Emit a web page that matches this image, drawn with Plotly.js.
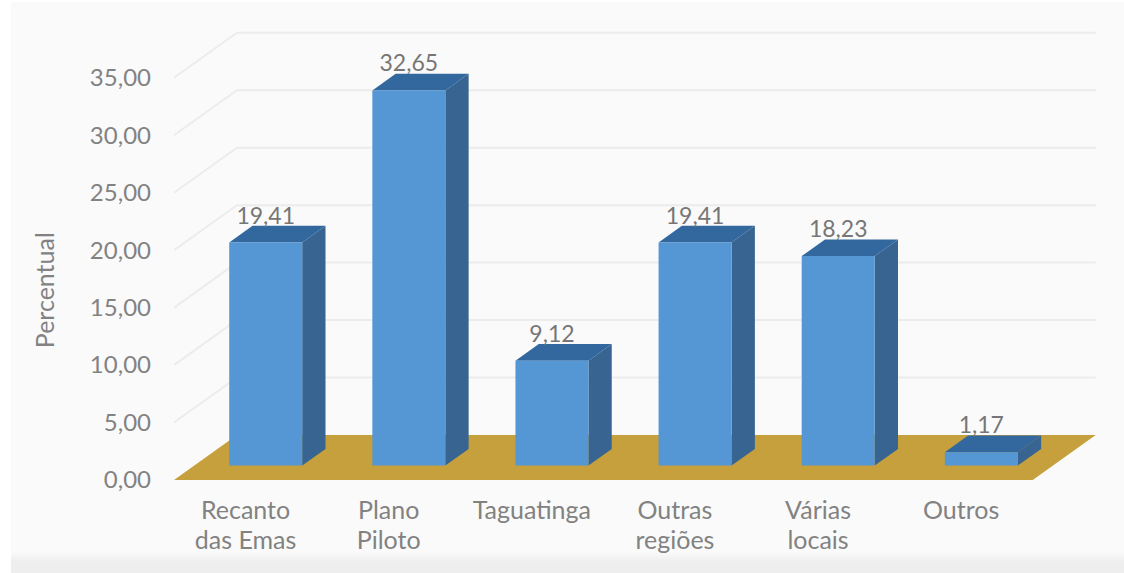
<!DOCTYPE html>
<html>
<head>
<meta charset="utf-8">
<script src="https://cdn.plot.ly/plotly-3.0.1.min.js"></script>
<style>
  html, body { margin: 0; padding: 0; background: #ffffff; overflow: hidden; }
  #panel { position: absolute; left: 11px; top: 2px; width: 1113px; height: 571px;
           background: linear-gradient(#fafafa 0, #fafafa 550px, #eeeeee 560px, #eeeeee 100%); }
  #chart { position: absolute; left: 0; top: 0; width: 1124px; height: 573px; }
</style>
</head>
<body>
<div id="panel"></div>
<div id="chart"></div>
<script>
// Survey share by region, drawn as an oblique 3-D column chart.
const categoriesLine1 = ['Recanto', 'Plano', 'Taguatinga', 'Outras', 'Várias', 'Outros'];
const categoriesLine2 = ['das Emas', 'Piloto', '', 'regiões', 'locais', ''];
const percentages = [19.41, 32.65, 9.12, 19.41, 18.23, 1.17];
const gridValues = [0, 5, 10, 15, 20, 25, 30, 35];

const textFont = 'Lato, "Open Sans", sans-serif';
const textGrey = '#828282';

// Oblique projection: one full unit of floor depth shifts a point by these data amounts.
const depthX = 0.44;
const depthY = 3.92;
const slotHalf = 0.5;
const barHalf = 0.255;
const barFront = 0.32;
const barBack = 0.69;
const xRange = [-0.5, 5.97];
const yRange = [0, 40.03];

const project = (x, depth, value) => [x + depth * depthX, value + depth * depthY];

function polygon(points, color) {
  const pts = points.map(p => project(p[0], p[1], p[2]));
  return {
    type: 'scatter', mode: 'lines', fill: 'toself', fillcolor: color,
    x: pts.map(p => p[0]).concat(pts[0][0]),
    y: pts.map(p => p[1]).concat(pts[0][1]),
    line: { color: color, width: 0 },
    hoverinfo: 'skip', showlegend: false
  };
}

function segment(points) {
  const pts = points.map(p => project(p[0], p[1], p[2]));
  return {
    type: 'scatter', mode: 'lines',
    x: pts.map(p => p[0]), y: pts.map(p => p[1]),
    line: { color: '#ececec', width: 2 },
    hoverinfo: 'skip', showlegend: false
  };
}

const last = percentages.length - 1;
const traces = [];

// Back wall and left wall grid lines
gridValues.filter(v => v > 0).forEach(v => {
  traces.push(segment([[xRange[0], 0, v], [xRange[0], 1, v], [last + slotHalf, 1, v]]));
});

// Floor
traces.push(polygon([
  [xRange[0], 0, 0], [last + slotHalf, 0, 0], [last + slotHalf, 1, 0], [xRange[0], 1, 0]
], '#c5a03c'));

// Column side and top faces
percentages.forEach((v, i) => {
  const l = i - barHalf, r = i + barHalf;
  traces.push(polygon([[r, barFront, 0], [r, barBack, 0], [r, barBack, v], [r, barFront, v]], '#376491'));
  traces.push(polygon([[l, barFront, v], [r, barFront, v], [r, barBack, v], [l, barBack, v]], '#33689f'));
});

// Column front faces sit on the overlay axes so they cover the projected faces behind them
traces.push({
  type: 'bar', xaxis: 'x2', yaxis: 'y2',
  x: percentages.map((v, i) => project(i, barFront, 0)[0]),
  y: percentages,
  base: percentages.map(() => project(0, barFront, 0)[1]),
  width: barHalf * 2,
  marker: { color: '#5596d5', line: { width: 0 } },
  hoverinfo: 'skip', showlegend: false
});

// Value labels centred over each front face, touching the back edge of the top face
traces.push({
  type: 'scatter', mode: 'text', xaxis: 'x2', yaxis: 'y2',
  x: percentages.map((v, i) => project(i, barFront, v)[0]),
  y: percentages.map((v, i) => project(i, barBack, v)[1] + 0.7),
  text: percentages.map(v => v.toFixed(2).replace('.', ',')),
  textposition: 'middle center',
  textfont: { family: textFont, size: 23, color: '#767676' },
  hoverinfo: 'skip', showlegend: false
});

const hiddenParts = { showgrid: false, zeroline: false, showline: false, ticks: '' };
const tickIndex = percentages.map((v, i) => i);

const layout = {
  width: 1124, height: 573,
  paper_bgcolor: 'rgba(0,0,0,0)', plot_bgcolor: 'rgba(0,0,0,0)',
  margin: { l: 174, r: 23.5, t: 20, b: 93 },
  separators: ',.',
  barmode: 'overlay',
  showlegend: false,
  font: { family: textFont, color: textGrey },
  xaxis: Object.assign({
    type: 'linear', range: xRange, tickmode: 'array', tickvals: tickIndex, ticktext: categoriesLine1,
    tickangle: 0, ticklabelstandoff: 13, tickfont: { family: textFont, size: 25, color: textGrey }
  }, hiddenParts),
  xaxis2: Object.assign({
    type: 'linear', range: xRange, overlaying: 'x', anchor: 'y2', tickmode: 'array',
    tickvals: tickIndex, ticktext: categoriesLine2,
    tickangle: 0, ticklabelstandoff: 43, tickfont: { family: textFont, size: 25, color: textGrey }
  }, hiddenParts),
  yaxis: Object.assign({
    type: 'linear', range: yRange, tickmode: 'array', tickvals: gridValues, tickformat: '.2f',
    ticklabelstandoff: 22, tickfont: { family: textFont, size: 24, color: textGrey }
  }, hiddenParts),
  yaxis2: { type: 'linear', range: yRange, overlaying: 'y', anchor: 'x2', visible: false },
  annotations: [{
    text: 'Percentual', textangle: -90, showarrow: false,
    xref: 'paper', xanchor: 'center', x: -0.1395,
    yref: 'y', yanchor: 'middle', y: 16.5,
    font: { family: textFont, size: 25, color: textGrey }
  }]
};

Plotly.newPlot('chart', traces, layout, { displayModeBar: false, staticPlot: true });
</script>
</body>
</html>
